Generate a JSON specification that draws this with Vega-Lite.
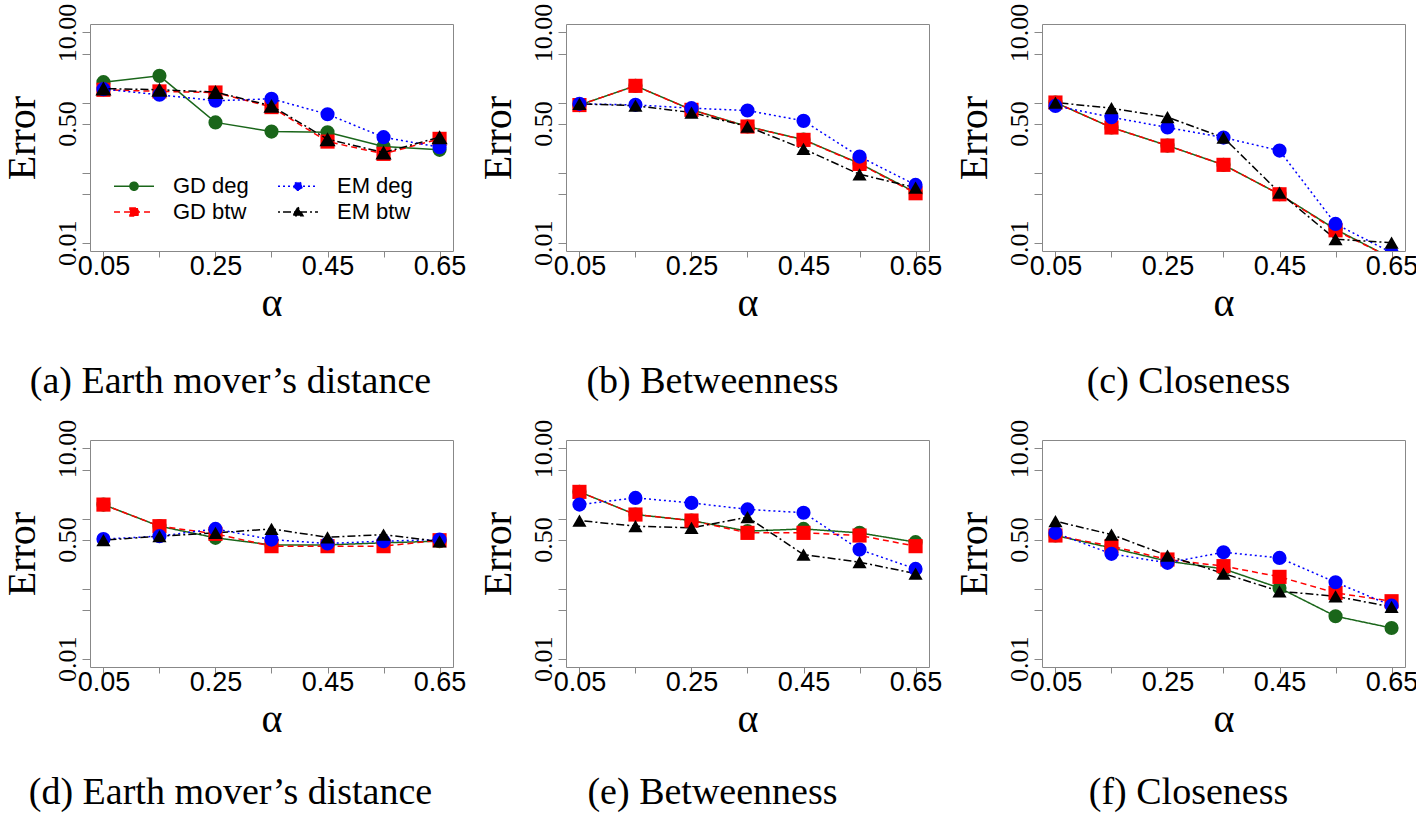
{
"$schema":"https://vega.github.io/schema/vega-lite/v6.json",
"background":"white",
"padding":{"left":1,"top":2,"right":0,"bottom":0},
"bounds":"flush",
"spacing":{"row":189,"column":113},
"columns":3,
"resolve":{"scale":{"color":"independent","fill":"independent","stroke":"independent","shape":"independent","strokeDash":"independent"}},
"data":{"values":[
{"p":"a","s":"GD deg","a":0.05,"e":1.95},{"p":"a","s":"GD deg","a":0.15,"e":2.40},{"p":"a","s":"GD deg","a":0.25,"e":0.52},{"p":"a","s":"GD deg","a":0.35,"e":0.385},{"p":"a","s":"GD deg","a":0.45,"e":0.377},{"p":"a","s":"GD deg","a":0.55,"e":0.235},{"p":"a","s":"GD deg","a":0.65,"e":0.211},
{"p":"a","s":"GD btw","a":0.05,"e":1.52},{"p":"a","s":"GD btw","a":0.15,"e":1.44},{"p":"a","s":"GD btw","a":0.25,"e":1.39},{"p":"a","s":"GD btw","a":0.35,"e":0.86},{"p":"a","s":"GD btw","a":0.45,"e":0.277},{"p":"a","s":"GD btw","a":0.55,"e":0.185},{"p":"a","s":"GD btw","a":0.65,"e":0.303},
{"p":"a","s":"EM deg","a":0.05,"e":1.55},{"p":"a","s":"EM deg","a":0.15,"e":1.29},{"p":"a","s":"EM deg","a":0.25,"e":1.06},{"p":"a","s":"EM deg","a":0.35,"e":1.13},{"p":"a","s":"EM deg","a":0.45,"e":0.68},{"p":"a","s":"EM deg","a":0.55,"e":0.32},{"p":"a","s":"EM deg","a":0.65,"e":0.23},
{"p":"a","s":"EM btw","a":0.05,"e":1.58},{"p":"a","s":"EM btw","a":0.15,"e":1.52},{"p":"a","s":"EM btw","a":0.25,"e":1.41},{"p":"a","s":"EM btw","a":0.35,"e":0.895},{"p":"a","s":"EM btw","a":0.45,"e":0.30},{"p":"a","s":"EM btw","a":0.55,"e":0.193},{"p":"a","s":"EM btw","a":0.65,"e":0.32},
{"p":"b","s":"GD deg","a":0.05,"e":0.92},{"p":"b","s":"GD deg","a":0.15,"e":1.73},{"p":"b","s":"GD deg","a":0.25,"e":0.79},{"p":"b","s":"GD deg","a":0.35,"e":0.455},{"p":"b","s":"GD deg","a":0.45,"e":0.295},{"p":"b","s":"GD deg","a":0.55,"e":0.135},{"p":"b","s":"GD deg","a":0.65,"e":0.052},
{"p":"b","s":"GD btw","a":0.05,"e":0.92},{"p":"b","s":"GD btw","a":0.15,"e":1.73},{"p":"b","s":"GD btw","a":0.25,"e":0.786},{"p":"b","s":"GD btw","a":0.35,"e":0.454},{"p":"b","s":"GD btw","a":0.45,"e":0.293},{"p":"b","s":"GD btw","a":0.55,"e":0.133},{"p":"b","s":"GD btw","a":0.65,"e":0.0507},
{"p":"b","s":"EM deg","a":0.05,"e":0.957},{"p":"b","s":"EM deg","a":0.15,"e":0.926},{"p":"b","s":"EM deg","a":0.25,"e":0.83},{"p":"b","s":"EM deg","a":0.35,"e":0.769},{"p":"b","s":"EM deg","a":0.45,"e":0.547},{"p":"b","s":"EM deg","a":0.55,"e":0.169},{"p":"b","s":"EM deg","a":0.65,"e":0.0667},
{"p":"b","s":"EM btw","a":0.05,"e":0.957},{"p":"b","s":"EM btw","a":0.15,"e":0.90},{"p":"b","s":"EM btw","a":0.25,"e":0.72},{"p":"b","s":"EM btw","a":0.35,"e":0.454},{"p":"b","s":"EM btw","a":0.45,"e":0.218},{"p":"b","s":"EM btw","a":0.55,"e":0.0946},{"p":"b","s":"EM btw","a":0.65,"e":0.061},
{"p":"c","s":"GD deg","a":0.05,"e":1.0},{"p":"c","s":"GD deg","a":0.15,"e":0.44},{"p":"c","s":"GD deg","a":0.25,"e":0.243},{"p":"c","s":"GD deg","a":0.35,"e":0.129},{"p":"c","s":"GD deg","a":0.45,"e":0.049},{"p":"c","s":"GD deg","a":0.55,"e":0.0155},{"p":"c","s":"GD deg","a":0.65,"e":0.006},
{"p":"c","s":"GD btw","a":0.05,"e":1.0},{"p":"c","s":"GD btw","a":0.15,"e":0.44},{"p":"c","s":"GD btw","a":0.25,"e":0.243},{"p":"c","s":"GD btw","a":0.35,"e":0.129},{"p":"c","s":"GD btw","a":0.45,"e":0.049},{"p":"c","s":"GD btw","a":0.55,"e":0.015},{"p":"c","s":"GD btw","a":0.65,"e":0.006},
{"p":"c","s":"EM deg","a":0.05,"e":0.895},{"p":"c","s":"EM deg","a":0.15,"e":0.617},{"p":"c","s":"EM deg","a":0.25,"e":0.44},{"p":"c","s":"EM deg","a":0.35,"e":0.316},{"p":"c","s":"EM deg","a":0.45,"e":0.206},{"p":"c","s":"EM deg","a":0.55,"e":0.0185},{"p":"c","s":"EM deg","a":0.65,"e":0.0072},
{"p":"c","s":"EM btw","a":0.05,"e":1.0},{"p":"c","s":"EM btw","a":0.15,"e":0.83},{"p":"c","s":"EM btw","a":0.25,"e":0.617},{"p":"c","s":"EM btw","a":0.35,"e":0.316},{"p":"c","s":"EM btw","a":0.45,"e":0.0518},{"p":"c","s":"EM btw","a":0.55,"e":0.0112},{"p":"c","s":"EM btw","a":0.65,"e":0.010},
{"p":"d","s":"GD deg","a":0.05,"e":1.58},{"p":"d","s":"GD deg","a":0.15,"e":0.777},{"p":"d","s":"GD deg","a":0.25,"e":0.53},{"p":"d","s":"GD deg","a":0.35,"e":0.42},{"p":"d","s":"GD deg","a":0.45,"e":0.42},{"p":"d","s":"GD deg","a":0.55,"e":0.45},{"p":"d","s":"GD deg","a":0.65,"e":0.475},
{"p":"d","s":"GD btw","a":0.05,"e":1.58},{"p":"d","s":"GD btw","a":0.15,"e":0.777},{"p":"d","s":"GD btw","a":0.25,"e":0.604},{"p":"d","s":"GD btw","a":0.35,"e":0.403},{"p":"d","s":"GD btw","a":0.45,"e":0.403},{"p":"d","s":"GD btw","a":0.55,"e":0.403},{"p":"d","s":"GD btw","a":0.65,"e":0.49},
{"p":"d","s":"EM deg","a":0.05,"e":0.51},{"p":"d","s":"EM deg","a":0.15,"e":0.56},{"p":"d","s":"EM deg","a":0.25,"e":0.71},{"p":"d","s":"EM deg","a":0.35,"e":0.5},{"p":"d","s":"EM deg","a":0.45,"e":0.44},{"p":"d","s":"EM deg","a":0.55,"e":0.475},{"p":"d","s":"EM deg","a":0.65,"e":0.5},
{"p":"d","s":"EM btw","a":0.05,"e":0.49},{"p":"d","s":"EM btw","a":0.15,"e":0.56},{"p":"d","s":"EM btw","a":0.25,"e":0.624},{"p":"d","s":"EM btw","a":0.35,"e":0.71},{"p":"d","s":"EM btw","a":0.45,"e":0.54},{"p":"d","s":"EM btw","a":0.55,"e":0.59},{"p":"d","s":"EM btw","a":0.65,"e":0.47},
{"p":"e","s":"GD deg","a":0.05,"e":2.4},{"p":"e","s":"GD deg","a":0.15,"e":1.14},{"p":"e","s":"GD deg","a":0.25,"e":0.936},{"p":"e","s":"GD deg","a":0.35,"e":0.66},{"p":"e","s":"GD deg","a":0.45,"e":0.71},{"p":"e","s":"GD deg","a":0.55,"e":0.624},{"p":"e","s":"GD deg","a":0.65,"e":0.46},
{"p":"e","s":"GD btw","a":0.05,"e":2.4},{"p":"e","s":"GD btw","a":0.15,"e":1.14},{"p":"e","s":"GD btw","a":0.25,"e":0.936},{"p":"e","s":"GD btw","a":0.35,"e":0.624},{"p":"e","s":"GD btw","a":0.45,"e":0.624},{"p":"e","s":"GD btw","a":0.55,"e":0.572},{"p":"e","s":"GD btw","a":0.65,"e":0.403},
{"p":"e","s":"EM deg","a":0.05,"e":1.58},{"p":"e","s":"EM deg","a":0.15,"e":1.97},{"p":"e","s":"EM deg","a":0.25,"e":1.67},{"p":"e","s":"EM deg","a":0.35,"e":1.35},{"p":"e","s":"EM deg","a":0.45,"e":1.21},{"p":"e","s":"EM deg","a":0.55,"e":0.36},{"p":"e","s":"EM deg","a":0.65,"e":0.191},
{"p":"e","s":"EM btw","a":0.05,"e":0.936},{"p":"e","s":"EM btw","a":0.15,"e":0.777},{"p":"e","s":"EM btw","a":0.25,"e":0.736},{"p":"e","s":"EM btw","a":0.35,"e":1.045},{"p":"e","s":"EM btw","a":0.45,"e":0.306},{"p":"e","s":"EM btw","a":0.55,"e":0.238},{"p":"e","s":"EM btw","a":0.65,"e":0.164},
{"p":"f","s":"GD deg","a":0.05,"e":0.572},{"p":"f","s":"GD deg","a":0.15,"e":0.381},{"p":"f","s":"GD deg","a":0.25,"e":0.246},{"p":"f","s":"GD deg","a":0.35,"e":0.191},{"p":"f","s":"GD deg","a":0.45,"e":0.102},{"p":"f","s":"GD deg","a":0.55,"e":0.0403},{"p":"f","s":"GD deg","a":0.65,"e":0.0274},
{"p":"f","s":"GD btw","a":0.05,"e":0.572},{"p":"f","s":"GD btw","a":0.15,"e":0.403},{"p":"f","s":"GD btw","a":0.25,"e":0.26},{"p":"f","s":"GD btw","a":0.35,"e":0.209},{"p":"f","s":"GD btw","a":0.45,"e":0.147},{"p":"f","s":"GD btw","a":0.55,"e":0.0868},{"p":"f","s":"GD btw","a":0.65,"e":0.066},
{"p":"f","s":"EM deg","a":0.05,"e":0.624},{"p":"f","s":"EM deg","a":0.15,"e":0.313},{"p":"f","s":"EM deg","a":0.25,"e":0.233},{"p":"f","s":"EM deg","a":0.35,"e":0.33},{"p":"f","s":"EM deg","a":0.45,"e":0.274},{"p":"f","s":"EM deg","a":0.55,"e":0.123},{"p":"f","s":"EM deg","a":0.65,"e":0.0571},
{"p":"f","s":"EM btw","a":0.05,"e":0.916},{"p":"f","s":"EM btw","a":0.15,"e":0.59},{"p":"f","s":"EM btw","a":0.25,"e":0.296},{"p":"f","s":"EM btw","a":0.35,"e":0.164},{"p":"f","s":"EM btw","a":0.45,"e":0.0916},{"p":"f","s":"EM btw","a":0.55,"e":0.0776},{"p":"f","s":"EM btw","a":0.65,"e":0.0547}
]},
"concat":[
{"width":363,"height":227,"transform":[{"filter":"datum.p=='a'"}],"title":{"text":"(a) Earth mover’s distance","dx":-41,"offset":40},
 "encoding":{
  "x":{"field":"a","type":"quantitative","scale":{"domain":[0.026,0.674],"nice":false,"zero":false},"axis":{"values":[0.05,0.15,0.25,0.35,0.45,0.55,0.65],"labelExpr":"abs(datum.value-0.15)<0.001||abs(datum.value-0.35)<0.001||abs(datum.value-0.55)<0.001?'':format(datum.value,'.2f')","title":"α"}},
  "y":{"field":"e","type":"quantitative","scale":{"type":"log","domain":[0.0076,13.2],"nice":false},"axis":{"values":[0.01,0.05,0.1,0.5,1,5,10],"labelExpr":"datum.value==10?'10.00':datum.value==0.5?'0.50':datum.value==0.01?'0.01':''","title":"Error"}}
 },
 "layer":[
  {"transform":[{"filter":"datum.s=='GD deg'"}],"mark":{"type":"line","color":"#1a661a","strokeWidth":1.5,"clip":true}},
  {"transform":[{"filter":"datum.s=='GD deg'"}],"mark":{"type":"point","shape":"circle","filled":true,"color":"#1a661a","size":200,"opacity":1,"clip":true}},
  {"transform":[{"filter":"datum.s=='GD btw'"}],"mark":{"type":"line","color":"#ff0000","strokeDash":[6,4],"strokeWidth":1.5,"clip":true}},
  {"transform":[{"filter":"datum.s=='GD btw'"}],"mark":{"type":"point","shape":"square","filled":true,"color":"#ff0000","size":200,"opacity":1,"clip":true}},
  {"transform":[{"filter":"datum.s=='EM deg'"}],"mark":{"type":"line","color":"#0000ff","strokeDash":[2,3],"strokeWidth":1.5,"clip":true}},
  {"transform":[{"filter":"datum.s=='EM deg'"}],"mark":{"type":"point","shape":"circle","filled":true,"color":"#0000ff","size":200,"opacity":1,"clip":true}},
  {"transform":[{"filter":"datum.s=='EM btw'"}],"mark":{"type":"line","color":"#000000","strokeDash":[2,3,8,3],"strokeWidth":1.5,"clip":true}},
  {"transform":[{"filter":"datum.s=='EM btw'"}],"mark":{"type":"point","shape":"triangle-up","filled":true,"color":"#000000","size":260,"opacity":1,"clip":true}},
  {"transform":[{"filter":"false"}],"mark":{"type":"point","filled":true,"opacity":1,"strokeWidth":1.5},
   "encoding":{
    "fill":{"field":"s","type":"nominal","scale":{"domain":["GD deg","GD btw","EM deg","EM btw"],"range":["#1a661a","#ff0000","#0000ff","#000000"]},
      "legend":{"orient":"none","legendX":29.5,"legendY":147.5,"columns":2,"title":null,"symbolSize":729,"labelFont":"Liberation Sans","labelFontSize":22,"labelColor":"black","labelOffset":24.5,"columnPadding":25,"rowPadding":-5,"padding":0,"symbolStrokeWidth":1.5,"symbolOpacity":1}},
    "stroke":{"field":"s","type":"nominal","scale":{"domain":["GD deg","GD btw","EM deg","EM btw"],"range":["#1a661a","#ff0000","#0000ff","#000000"]},
      "legend":{"orient":"none","legendX":29.5,"legendY":147.5,"columns":2,"title":null,"symbolSize":729,"labelFont":"Liberation Sans","labelFontSize":22,"labelColor":"black","labelOffset":24.5,"columnPadding":25,"rowPadding":-5,"padding":0,"symbolStrokeWidth":1.5,"symbolOpacity":1}},
    "shape":{"field":"s","type":"nominal","scale":{"domain":["GD deg","GD btw","EM deg","EM btw"],"range":["M-1.48,0H1.48M-0.3,0A0.3,0.3,0,1,0,0.3,0A0.3,0.3,0,1,0,-0.3,0Z","M-1.48,0H1.48M-0.3,-0.3H0.3V0.3H-0.3Z","M-1.48,0H1.48M-0.3,0A0.3,0.3,0,1,0,0.3,0A0.3,0.3,0,1,0,-0.3,0Z","M-1.48,0H1.48M0,-0.36L0.37,0.28L-0.37,0.28Z"]},
      "legend":{"orient":"none","legendX":29.5,"legendY":147.5,"columns":2,"title":null,"symbolSize":729,"labelFont":"Liberation Sans","labelFontSize":22,"labelColor":"black","labelOffset":24.5,"columnPadding":25,"rowPadding":-5,"padding":0,"symbolStrokeWidth":1.5,"symbolOpacity":1}},
    "strokeDash":{"field":"s","type":"nominal","scale":{"domain":["GD deg","GD btw","EM deg","EM btw"],"range":[[1,0],[6,4],[2,3],[2,3,8,3]]},
      "legend":{"orient":"none","legendX":29.5,"legendY":147.5,"columns":2,"title":null,"symbolSize":729,"labelFont":"Liberation Sans","labelFontSize":22,"labelColor":"black","labelOffset":24.5,"columnPadding":25,"rowPadding":-5,"padding":0,"symbolStrokeWidth":1.5,"symbolOpacity":1}}
   }}
 ]},
{"width":363,"height":227,"transform":[{"filter":"datum.p=='b'"}],"title":{"text":"(b) Betweenness","dx":-35,"offset":40},
 "encoding":{
  "x":{"field":"a","type":"quantitative","scale":{"domain":[0.026,0.674],"nice":false,"zero":false},"axis":{"values":[0.05,0.15,0.25,0.35,0.45,0.55,0.65],"labelExpr":"abs(datum.value-0.15)<0.001||abs(datum.value-0.35)<0.001||abs(datum.value-0.55)<0.001?'':format(datum.value,'.2f')","title":"α"}},
  "y":{"field":"e","type":"quantitative","scale":{"type":"log","domain":[0.0076,13.2],"nice":false},"axis":{"values":[0.01,0.05,0.1,0.5,1,5,10],"labelExpr":"datum.value==10?'10.00':datum.value==0.5?'0.50':datum.value==0.01?'0.01':''","title":"Error"}},
  "color":{"field":"s","type":"nominal","scale":{"domain":["GD deg","GD btw","EM deg","EM btw"],"range":["#1a661a","#ff0000","#0000ff","#000000"]},"legend":null}
 },
 "layer":[
  {"mark":{"type":"line","strokeWidth":1.5,"clip":true},"encoding":{"strokeDash":{"field":"s","type":"nominal","scale":{"domain":["GD deg","GD btw","EM deg","EM btw"],"range":[[1,0],[6,4],[2,3],[2,3,8,3]]},"legend":null}}},
  {"mark":{"type":"point","filled":true,"size":200,"opacity":1,"clip":true},"encoding":{"shape":{"field":"s","type":"nominal","scale":{"domain":["GD deg","GD btw","EM deg","EM btw"],"range":["circle","square","circle","triangle-up"]},"legend":null}}}
 ]},
{"width":363,"height":227,"transform":[{"filter":"datum.p=='c'"}],"title":{"text":"(c) Closeness","dx":-35,"offset":40},
 "encoding":{
  "x":{"field":"a","type":"quantitative","scale":{"domain":[0.026,0.674],"nice":false,"zero":false},"axis":{"values":[0.05,0.15,0.25,0.35,0.45,0.55,0.65],"labelExpr":"abs(datum.value-0.15)<0.001||abs(datum.value-0.35)<0.001||abs(datum.value-0.55)<0.001?'':format(datum.value,'.2f')","title":"α"}},
  "y":{"field":"e","type":"quantitative","scale":{"type":"log","domain":[0.0076,13.2],"nice":false},"axis":{"values":[0.01,0.05,0.1,0.5,1,5,10],"labelExpr":"datum.value==10?'10.00':datum.value==0.5?'0.50':datum.value==0.01?'0.01':''","title":"Error"}},
  "color":{"field":"s","type":"nominal","scale":{"domain":["GD deg","GD btw","EM deg","EM btw"],"range":["#1a661a","#ff0000","#0000ff","#000000"]},"legend":null}
 },
 "layer":[
  {"mark":{"type":"line","strokeWidth":1.5,"clip":true},"encoding":{"strokeDash":{"field":"s","type":"nominal","scale":{"domain":["GD deg","GD btw","EM deg","EM btw"],"range":[[1,0],[6,4],[2,3],[2,3,8,3]]},"legend":null}}},
  {"mark":{"type":"point","filled":true,"size":200,"opacity":1,"clip":true},"encoding":{"shape":{"field":"s","type":"nominal","scale":{"domain":["GD deg","GD btw","EM deg","EM btw"],"range":["circle","square","circle","triangle-up"]},"legend":null}}}
 ]},
{"width":363,"height":227,"transform":[{"filter":"datum.p=='d'"}],"title":{"text":"(d) Earth mover’s distance","dx":-41,"offset":35},
 "encoding":{
  "x":{"field":"a","type":"quantitative","scale":{"domain":[0.026,0.674],"nice":false,"zero":false},"axis":{"values":[0.05,0.15,0.25,0.35,0.45,0.55,0.65],"labelExpr":"abs(datum.value-0.15)<0.001||abs(datum.value-0.35)<0.001||abs(datum.value-0.55)<0.001?'':format(datum.value,'.2f')","title":"α"}},
  "y":{"field":"e","type":"quantitative","scale":{"type":"log","domain":[0.0076,13.2],"nice":false},"axis":{"values":[0.01,0.05,0.1,0.5,1,5,10],"labelExpr":"datum.value==10?'10.00':datum.value==0.5?'0.50':datum.value==0.01?'0.01':''","title":"Error"}},
  "color":{"field":"s","type":"nominal","scale":{"domain":["GD deg","GD btw","EM deg","EM btw"],"range":["#1a661a","#ff0000","#0000ff","#000000"]},"legend":null}
 },
 "layer":[
  {"mark":{"type":"line","strokeWidth":1.5,"clip":true},"encoding":{"strokeDash":{"field":"s","type":"nominal","scale":{"domain":["GD deg","GD btw","EM deg","EM btw"],"range":[[1,0],[6,4],[2,3],[2,3,8,3]]},"legend":null}}},
  {"mark":{"type":"point","filled":true,"size":200,"opacity":1,"clip":true},"encoding":{"shape":{"field":"s","type":"nominal","scale":{"domain":["GD deg","GD btw","EM deg","EM btw"],"range":["circle","square","circle","triangle-up"]},"legend":null}}}
 ]},
{"width":363,"height":227,"transform":[{"filter":"datum.p=='e'"}],"title":{"text":"(e) Betweenness","dx":-35,"offset":35},
 "encoding":{
  "x":{"field":"a","type":"quantitative","scale":{"domain":[0.026,0.674],"nice":false,"zero":false},"axis":{"values":[0.05,0.15,0.25,0.35,0.45,0.55,0.65],"labelExpr":"abs(datum.value-0.15)<0.001||abs(datum.value-0.35)<0.001||abs(datum.value-0.55)<0.001?'':format(datum.value,'.2f')","title":"α"}},
  "y":{"field":"e","type":"quantitative","scale":{"type":"log","domain":[0.0076,13.2],"nice":false},"axis":{"values":[0.01,0.05,0.1,0.5,1,5,10],"labelExpr":"datum.value==10?'10.00':datum.value==0.5?'0.50':datum.value==0.01?'0.01':''","title":"Error"}},
  "color":{"field":"s","type":"nominal","scale":{"domain":["GD deg","GD btw","EM deg","EM btw"],"range":["#1a661a","#ff0000","#0000ff","#000000"]},"legend":null}
 },
 "layer":[
  {"mark":{"type":"line","strokeWidth":1.5,"clip":true},"encoding":{"strokeDash":{"field":"s","type":"nominal","scale":{"domain":["GD deg","GD btw","EM deg","EM btw"],"range":[[1,0],[6,4],[2,3],[2,3,8,3]]},"legend":null}}},
  {"mark":{"type":"point","filled":true,"size":200,"opacity":1,"clip":true},"encoding":{"shape":{"field":"s","type":"nominal","scale":{"domain":["GD deg","GD btw","EM deg","EM btw"],"range":["circle","square","circle","triangle-up"]},"legend":null}}}
 ]},
{"width":363,"height":227,"transform":[{"filter":"datum.p=='f'"}],"title":{"text":"(f) Closeness","dx":-35,"offset":35},
 "encoding":{
  "x":{"field":"a","type":"quantitative","scale":{"domain":[0.026,0.674],"nice":false,"zero":false},"axis":{"values":[0.05,0.15,0.25,0.35,0.45,0.55,0.65],"labelExpr":"abs(datum.value-0.15)<0.001||abs(datum.value-0.35)<0.001||abs(datum.value-0.55)<0.001?'':format(datum.value,'.2f')","title":"α"}},
  "y":{"field":"e","type":"quantitative","scale":{"type":"log","domain":[0.0076,13.2],"nice":false},"axis":{"values":[0.01,0.05,0.1,0.5,1,5,10],"labelExpr":"datum.value==10?'10.00':datum.value==0.5?'0.50':datum.value==0.01?'0.01':''","title":"Error"}},
  "color":{"field":"s","type":"nominal","scale":{"domain":["GD deg","GD btw","EM deg","EM btw"],"range":["#1a661a","#ff0000","#0000ff","#000000"]},"legend":null}
 },
 "layer":[
  {"mark":{"type":"line","strokeWidth":1.5,"clip":true},"encoding":{"strokeDash":{"field":"s","type":"nominal","scale":{"domain":["GD deg","GD btw","EM deg","EM btw"],"range":[[1,0],[6,4],[2,3],[2,3,8,3]]},"legend":null}}},
  {"mark":{"type":"point","filled":true,"size":200,"opacity":1,"clip":true},"encoding":{"shape":{"field":"s","type":"nominal","scale":{"domain":["GD deg","GD btw","EM deg","EM btw"],"range":["circle","square","circle","triangle-up"]},"legend":null}}}
 ]}
],
"config":{
 "view":{"stroke":"#888888","strokeWidth":1},
 "title":{"font":"Liberation Serif","fontSize":38,"fontWeight":"normal","color":"black","orient":"bottom"},
 "axis":{"grid":false,"domain":false,"tickColor":"#888888","labelColor":"black","titleColor":"black","titleFont":"Liberation Serif","titleFontSize":40,"titleFontWeight":"normal","labelOverlap":false,"labelBound":false,"labelFlush":false},
 "axisX":{"labelFont":"Liberation Sans","labelFontSize":27,"tickSize":6,"labelPadding":-4,"titlePadding":4},
 "axisY":{"labelFont":"Liberation Serif","labelFontSize":26,"tickSize":8,"labelAngle":-90,"labelAlign":"center","labelBaseline":"bottom","labelPadding":2,"titlePadding":12}
}
}
